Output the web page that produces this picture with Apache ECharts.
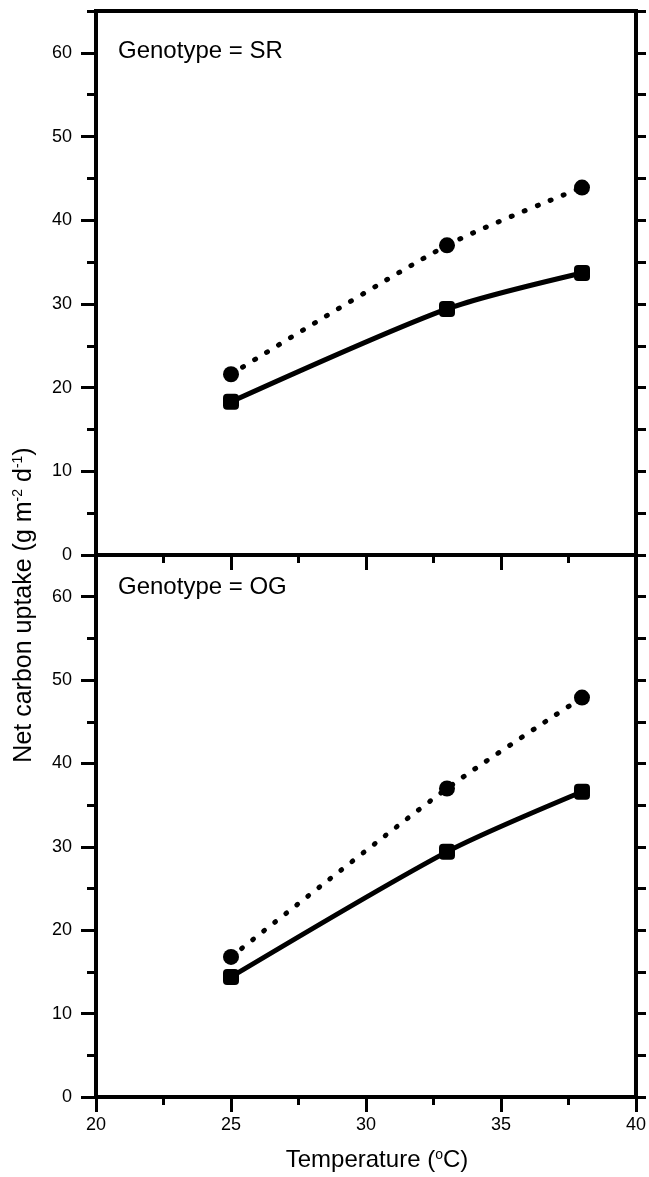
<!DOCTYPE html>
<html>
<head>
<meta charset="utf-8">
<script src="https://cdn.jsdelivr.net/npm/echarts@6/dist/echarts.min.js"></script>
<style>
html,body{margin:0;padding:0;background:#fff;}
#chart{width:649px;height:1177px;}
</style>
</head>
<body>
<div id="chart"></div>
<script>
// ---- data ----
const temps = [25, 33, 38];
const srCircle = [21.6, 37.0, 43.9];
const srSquare = [18.3, 29.4, 33.7];
const ogCircle = [16.8, 37.0, 47.9];
const ogSquare = [14.4, 29.4, 36.6];
const panelTitles = ['Genotype = SR', 'Genotype = OG'];
const xTicks = [20, 25, 30, 35, 40];
const yTicks = [0, 10, 20, 30, 40, 50, 60];
const xTitle = 'Temperature ({s|o}C)';
const yTitle = 'Net carbon uptake (g m{s|-2} d{s|-1})';

const FONT = '"Liberation Sans", Arial, Helvetica, sans-serif';
const chart = echarts.init(document.getElementById('chart'), null, {renderer: 'canvas'});

const grids = [
  {left: 96, top: 11, width: 540, height: 544},
  {left: 96, top: 555, width: 540, height: 542}
];

const xAxes = [], yAxes = [], series = [];
grids.forEach((g, gi) => {
  xAxes.push({
    gridIndex: gi, type: 'value', min: xTicks[0], max: xTicks[xTicks.length - 1], interval: 5,
    position: 'bottom',
    axisLine: {show: false},
    axisTick: {show: true, length: 15, lineStyle: {color: '#000', width: 3}},
    minorTick: {show: true, splitNumber: 2, length: 8, lineStyle: {color: '#000', width: 3}},
    axisLabel: {show: gi === 1, fontSize: 18, color: '#000', fontFamily: FONT, margin: 19},
    splitLine: {show: false}, minorSplitLine: {show: false}
  });
  const base = yAxes.length;
  // labelled axis with major ticks
  yAxes.push({
    gridIndex: gi, type: 'value', min: 0, max: 65, interval: 10, position: 'left',
    axisLine: {show: false},
    axisTick: {show: true, length: 15, customValues: yTicks, lineStyle: {color: '#000', width: 3}},
    axisLabel: {show: true, customValues: yTicks, fontSize: 18, color: '#000', fontFamily: FONT, margin: 24},
    splitLine: {show: false}
  });
  // minor ticks left
  yAxes.push({
    gridIndex: gi, type: 'value', min: 0, max: 65, interval: 5, position: 'left',
    axisLine: {show: false},
    axisTick: {show: true, length: 9, lineStyle: {color: '#000', width: 3}},
    axisLabel: {show: false}, splitLine: {show: false}
  });
  // right ticks
  yAxes.push({
    gridIndex: gi, type: 'value', min: 0, max: 65, interval: 5, position: 'right',
    axisLine: {show: false},
    axisTick: {show: true, length: 10, lineStyle: {color: '#000', width: 3}},
    axisLabel: {show: false}, splitLine: {show: false}
  });
  const circ = gi === 0 ? srCircle : ogCircle;
  const sq = gi === 0 ? srSquare : ogSquare;
  series.push({
    type: 'line', xAxisIndex: gi, yAxisIndex: base, smooth: 0.25,
    data: temps.map((t, i) => [t, circ[i]]),
    symbol: 'circle', symbolSize: 16,
    itemStyle: {color: '#000'},
    lineStyle: {color: '#000', width: 5, type: [1, 13], cap: 'round'}
  });
  series.push({
    type: 'line', xAxisIndex: gi, yAxisIndex: base, smooth: 0.25,
    data: temps.map((t, i) => [t, sq[i]]),
    symbol: 'roundRect', symbolSize: 16,
    itemStyle: {color: '#000'},
    lineStyle: {color: '#000', width: 5, type: 'solid'}
  });
});

const option = {
  animation: false,
  backgroundColor: '#fff',
  grid: grids.map(g => Object.assign({show: true, borderColor: '#000', borderWidth: 4, backgroundColor: 'transparent'}, g)),
  xAxis: xAxes,
  yAxis: yAxes,
  series: series,
  graphic: [
    {type: 'text', x: 118, y: 51, style: {text: panelTitles[0], fontSize: 24, fontFamily: FONT, fill: '#000', verticalAlign: 'middle'}},
    {type: 'text', x: 118, y: 587, style: {text: panelTitles[1], fontSize: 24, fontFamily: FONT, fill: '#000', verticalAlign: 'middle'}},
    {type: 'text', x: 377, y: 1160, style: {text: xTitle, fontSize: 24, fontFamily: FONT, fill: '#000', align: 'center', verticalAlign: 'middle',
      rich: {s: {fontSize: 14, fontFamily: FONT, verticalAlign: 'top', lineHeight: 20}}}},
    {type: 'text', x: 24, y: 605, rotation: Math.PI / 2, style: {text: yTitle, fontSize: 25, fontFamily: FONT, fill: '#000', align: 'center', verticalAlign: 'middle',
      rich: {s: {fontSize: 14, fontFamily: FONT, verticalAlign: 'top', lineHeight: 20}}}}
  ]
};
chart.setOption(option);
</script>
</body>
</html>
